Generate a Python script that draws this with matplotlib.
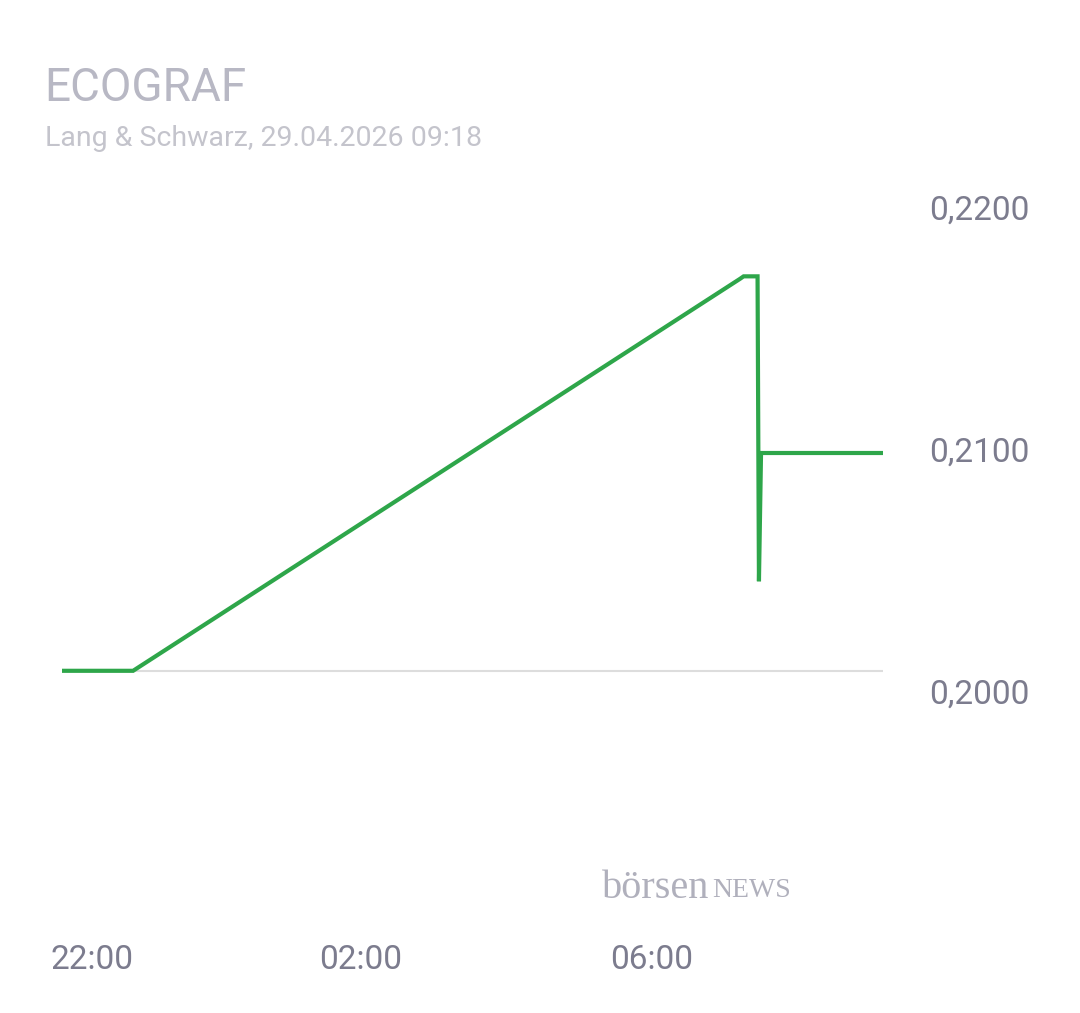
import matplotlib
matplotlib.use("Agg")
import matplotlib.pyplot as plt
from matplotlib.transforms import blended_transform_factory as btf

# hours since 22:00
times = [-0.43, 0.59, 9.3, 9.35, 9.55, 9.57, 9.6, 9.62, 11.35]
prices = [0.2010, 0.2010, 0.2172, 0.2173, 0.2173, 0.2047, 0.2100, 0.2100, 0.2100]
ref_price = 0.2010
yticks = [0.2200, 0.2100, 0.2000]
ytick_labels = ["0,2200", "0,2100", "0,2000"]
xticks = [0.0, 3.86, 8.03]
xtick_labels = ["22:00", "02:00", "06:00"]

W, H = 1080, 1013
fig = plt.figure(figsize=(W/100, H/100), dpi=100)
px = 1/24200
top_py, bot_py = 150, 850
ax = fig.add_axes([62/W, 1-bot_py/H, (883-62)/W, (bot_py-top_py)/H])
ax.set_ylim(0.2 - (bot_py-695)*px, 0.22 + (211-top_py)*px)
x0 = -0.43; x1 = 11.35
ax.set_xlim(x0, x1)
ax.axis("off")
ax.axhline(ref_price, color="#dddddd", lw=1.5, zorder=1)
ax.plot(times, prices, color="#2ea64a", lw=3, zorder=2, solid_joinstyle="miter")

tr = btf(fig.transFigure, ax.transData)
for v, l in zip(yticks, ytick_labels):
    ax.text(979/W, v, l, transform=tr, ha="center", va="center", fontsize=24,
            color="#7c7c8e", family="Roboto")
for v, l in zip(xticks, xtick_labels):
    ax.text(v, 1-960/H, l, transform=btf(ax.transData, fig.transFigure),
            ha="center", va="center", fontsize=24, color="#7c7c8e", family="Roboto")

fig.text(44/W, 1-88/H, "ECOGRAF", fontsize=33, color="#b8b8c4", va="center", family="Roboto")
fig.text(45/W, 1-138/H, "Lang & Schwarz, 29.04.2026 09:18", fontsize=20.5, color="#c4c4cc",
         va="center", family="Roboto")
fig.text(602/W, 1-888/H, "börsen", fontsize=29, color="#b0b0bc", va="center", family="Liberation Serif")
fig.text(712/W, 1-890/H, "NEWS", fontsize=20, color="#b0b0bc", va="center", family="Liberation Serif")
fig.savefig("out.png", dpi=100)
